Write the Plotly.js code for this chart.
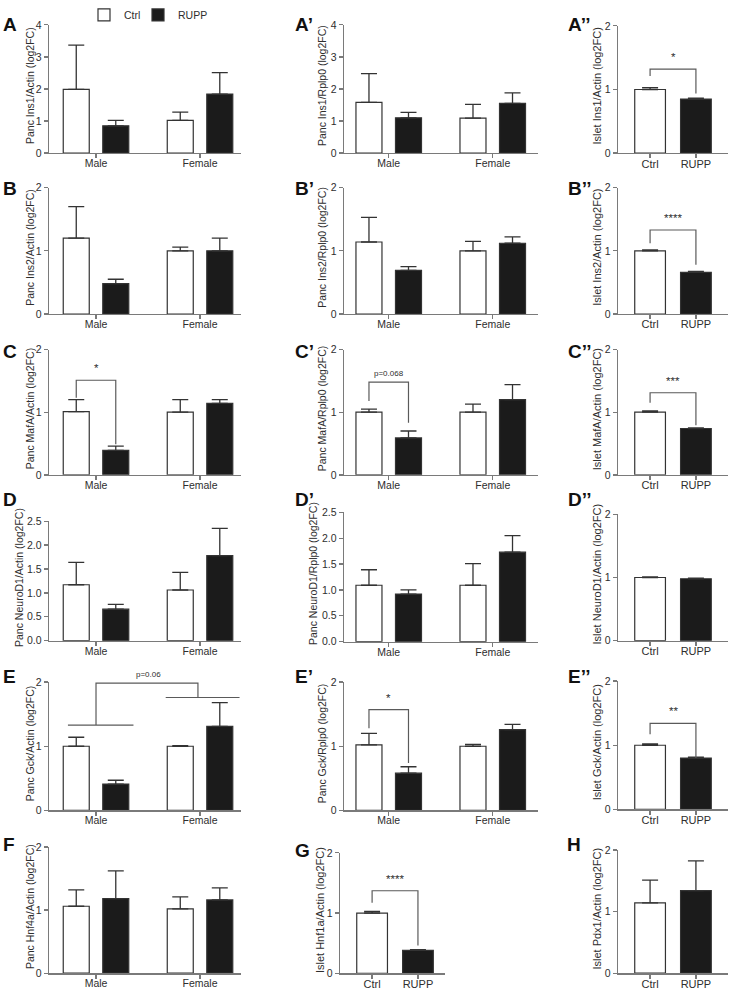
<!DOCTYPE html>
<html>
<head>
<meta charset="utf-8">
<script src="https://cdn.plot.ly/plotly-3.0.1.min.js"></script>
<style>html,body{margin:0;padding:0;background:#fff;}#chart{width:730px;height:990px;}</style>
</head>
<body>
<div id="chart"></div>
<script>
// ---------------- DATA ----------------
const sexCats = ['Male', 'Female'];
const groupCats = ['Ctrl', 'RUPP'];
const seriesNames = ['Ctrl', 'RUPP'];

// Pancreas panels: mean and SEM (upper error) for [Male, Female]
const A_ctrl = [1.99, 1.02],  A_ctrlSem = [1.38, 0.26],  A_rupp = [0.85, 1.84],  A_ruppSem = [0.17, 0.67];
const A1_ctrl = [1.58, 1.09], A1_ctrlSem = [0.90, 0.43], A1_rupp = [1.10, 1.55], A1_ruppSem = [0.17, 0.33];
const B_ctrl = [1.20, 1.00],  B_ctrlSem = [0.50, 0.06],  B_rupp = [0.48, 1.00],  B_ruppSem = [0.07, 0.20];
const B1_ctrl = [1.14, 1.00], B1_ctrlSem = [0.39, 0.15], B1_rupp = [0.69, 1.12], B1_ruppSem = [0.06, 0.10];
const C_ctrl = [1.01, 1.00],  C_ctrlSem = [0.19, 0.20],  C_rupp = [0.39, 1.14],  C_ruppSem = [0.07, 0.06];
const C1_ctrl = [1.00, 1.00], C1_ctrlSem = [0.05, 0.13], C1_rupp = [0.59, 1.20], C1_ruppSem = [0.11, 0.24];
const D_ctrl = [1.17, 1.06],  D_ctrlSem = [0.47, 0.37],  D_rupp = [0.66, 1.78],  D_ruppSem = [0.10, 0.57];
const D1_ctrl = [1.09, 1.09], D1_ctrlSem = [0.30, 0.42], D1_rupp = [0.92, 1.73], D1_ruppSem = [0.08, 0.32];
const E_ctrl = [1.00, 1.00],  E_ctrlSem = [0.14, 0.01],  E_rupp = [0.41, 1.31],  E_ruppSem = [0.06, 0.37];
const E1_ctrl = [1.02, 1.00], E1_ctrlSem = [0.18, 0.03], E1_rupp = [0.58, 1.26], E1_ruppSem = [0.10, 0.08];
const F_ctrl = [1.06, 1.02],  F_ctrlSem = [0.26, 0.19],  F_rupp = [1.18, 1.16],  F_ruppSem = [0.44, 0.19];

// Islet panels: mean and SEM for [Ctrl, RUPP]
const A2_vals = [1.00, 0.85], A2_sem = [0.03, 0.015];
const B2_vals = [1.00, 0.66], B2_sem = [0.015, 0.015];
const C2_vals = [1.00, 0.74], C2_sem = [0.02, 0.01];
const D2_vals = [1.00, 0.98], D2_sem = [0.01, 0.01];
const E2_vals = [1.00, 0.80], E2_sem = [0.02, 0.015];
const G_vals  = [1.00, 0.38], G_sem  = [0.025, 0.01];
const H_vals  = [1.14, 1.34], H_sem  = [0.37, 0.48];

// Significance brackets: [left x, right x] in category units, top level, leg ends, text
const sigPanel  = ['C', 'C1', 'E1', 'A2', 'B2', 'C2', 'E2', 'G'];
const sigX      = [[-0.19, 0.19], [-0.19, 0.19], [-0.19, 0.19], [0, 1], [0, 1], [0, 1], [0, 1], [0, 1]];
const sigTop    = [1.51, 1.48, 1.57, 1.32, 1.33, 1.31, 1.34, 1.37];
const sigLegs   = [[1.23, 0.49], [1.18, 0.83], [1.28, 0.74], [1.21, 0.935], [1.12, 0.78], [1.15, 0.79], [1.17, 0.80], [1.17, 0.46]];
const sigText   = ['*', 'p=0.068', '*', '*', '****', '***', '**', '****'];
// Panel E: sex main-effect bracket
const E_groupLines = [[-0.27, 0.36, 1.33], [0.67, 1.38, 1.76]];
const E_bracketTop = 1.985;
const E_bracketText = 'p=0.06';

// ---------------- LAYOUT CONFIG ----------------
const W = 730, H = 990;
const FONT = 'Liberation Sans, Arial, Helvetica, sans-serif';
const AX = '#7a7a7a', INK = '#2e2e2e', BARLINE = '#333333', DARK = '#1b1b1b';

const col1 = {x: [49, 241], r: [-0.452, 1.394], tx: 30,  fs: 10.5};
const col2 = {x: [344, 538], r: [-0.43, 1.435], tx: 322, fs: 10.5};
const col3 = {x: [618, 728], r: [-0.70, 1.70], tx: 597, fs: 11};
const colG = {x: [340, 445], r: [-0.70, 1.59], tx: 320, fs: 11};

const panels = [
  {id:'A',  kind:'sex', d:[A_ctrl,A_ctrlSem,A_rupp,A_ruppSem],     title:'Panc Ins1/Actin (log2FC)',   ymax:4, col:col1, y:[12,142],  label:'A',   lx:1,   ly:12},
  {id:'A1', kind:'sex', d:[A1_ctrl,A1_ctrlSem,A1_rupp,A1_ruppSem], title:'Panc Ins1/Rplp0 (log2FC)',   ymax:4, col:col2, y:[12,142],  label:'A’',  lx:293, ly:12},
  {id:'A2', kind:'grp', d:[A2_vals,A2_sem],                        title:'Islet Ins1/Actin (log2FC)',  ymax:2, col:col3, y:[13,142],  label:'A’’', lx:566, ly:12},
  {id:'B',  kind:'sex', d:[B_ctrl,B_ctrlSem,B_rupp,B_ruppSem],     title:'Panc Ins2/Actin (log2FC)',   ymax:2, col:col1, y:[177,305], label:'B',   lx:1,   ly:178},
  {id:'B1', kind:'sex', d:[B1_ctrl,B1_ctrlSem,B1_rupp,B1_ruppSem], title:'Panc Ins2/Rplp0 (log2FC)',   ymax:2, col:col2, y:[177,305], label:'B’',  lx:293, ly:178},
  {id:'B2', kind:'grp', d:[B2_vals,B2_sem],                        title:'Islet Ins2/Actin (log2FC)',  ymax:2, col:col3, y:[177,305], label:'B’’', lx:566, ly:178},
  {id:'C',  kind:'sex', d:[C_ctrl,C_ctrlSem,C_rupp,C_ruppSem],     title:'Panc MafA/Actin (log2FC)',   ymax:2, col:col1, y:[341,468], label:'C',   lx:1,   ly:343},
  {id:'C1', kind:'sex', d:[C1_ctrl,C1_ctrlSem,C1_rupp,C1_ruppSem], title:'Panc MafA/Rplp0 (log2FC)',   ymax:2, col:col2, y:[341,468], label:'C’',  lx:293, ly:343},
  {id:'C2', kind:'grp', d:[C2_vals,C2_sem],                        title:'Islet MafA/Actin (log2FC)',  ymax:2, col:col3, y:[341,468], label:'C’’', lx:566, ly:343},
  {id:'D',  kind:'sex', d:[D_ctrl,D_ctrlSem,D_rupp,D_ruppSem],     title:'Panc NeuroD1/Actin (log2FC)',ymax:2.5, dt:0.5, tx:19, col:col1, y:[515,636], label:'D',   lx:1,   ly:493},
  {id:'D1', kind:'sex', d:[D1_ctrl,D1_ctrlSem,D1_rupp,D1_ruppSem], title:'Panc NeuroD1/Rplp0 (log2FC)',ymax:2.5, dt:0.5, tx:313, col:col2, y:[506,637], label:'D’',  lx:293, ly:493},
  {id:'D2', kind:'grp', d:[D2_vals,D2_sem],                        title:'Islet NeuroD1/Actin (log2FC)',ymax:2, col:col3, y:[508,636], label:'D’’', lx:566, ly:493},
  {id:'E',  kind:'sex', d:[E_ctrl,E_ctrlSem,E_rupp,E_ruppSem],     title:'Panc Gck/Actin (log2FC)',    ymax:2, col:col1, y:[678,808], label:'E',   lx:1,   ly:672},
  {id:'E1', kind:'sex', d:[E1_ctrl,E1_ctrlSem,E1_rupp,E1_ruppSem], title:'Panc Gck/Rplp0 (log2FC)',    ymax:2, col:col2, y:[678,808], label:'E’',  lx:293, ly:672},
  {id:'E2', kind:'grp', d:[E2_vals,E2_sem],                        title:'Islet Gck/Actin (log2FC)',   ymax:2, col:col3, y:[677,807], label:'E’’', lx:566, ly:672},
  {id:'F',  kind:'sex', d:[F_ctrl,F_ctrlSem,F_rupp,F_ruppSem],     title:'Panc Hnf4a/Actin (log2FC)',  ymax:2, col:col1, y:[845,973], label:'F',   lx:1,   ly:843},
  {id:'G',  kind:'grp', d:[G_vals,G_sem],                          title:'Islet Hnf1a/Actin (log2FC)', ymax:2, col:colG, y:[851,973], label:'G',   lx:293, ly:849},
  {id:'H',  kind:'grp', d:[H_vals,H_sem],                          title:'Islet Pdx1/Actin (log2FC)',  ymax:2, col:col3, y:[848,973], label:'H',   lx:565, ly:843}
];

const SEX_W = 0.25, SEX_C = 0.19;   // bar width and half-spacing (category units)
const GRP_W = 0.67;

const traces = [];
const legendBase = {orientation:'h', xanchor:'left', yanchor:'middle', y: 1 - 2/H,
  font:{family:FONT, size:10.5, color:INK}, bgcolor:'rgba(0,0,0,0)', borderwidth:0,
  itemclick:false, itemdoubleclick:false};
const layout = {
  width: W, height: H,
  margin: {l:0, r:0, t:0, b:0},
  paper_bgcolor: '#fff', plot_bgcolor: '#fff',
  font: {family: FONT, size: 10.5, color: INK},
  barmode: 'overlay',
  showlegend: true,
  legend:  Object.assign({}, legendBase, {x: 84/W}),
  legend2: Object.assign({}, legendBase, {x: 138/W}),
  shapes: [], annotations: []
};
const axId = {};

panels.forEach((p, i) => {
  const n = i + 1;
  const xa = 'x' + (n === 1 ? '' : n), ya = 'y' + (n === 1 ? '' : n);
  axId[p.id] = {x: xa, y: ya};
  const cats = p.kind === 'sex' ? sexCats : groupCats;
  const fs = p.col.fs;
  layout['xaxis' + (n === 1 ? '' : n)] = {
    domain: [p.col.x[0] / W, p.col.x[1] / W], anchor: ya, type: 'category',
    categoryorder: 'array', categoryarray: cats, range: p.col.r,
    showline: true, linecolor: AX, linewidth: 1.3, ticks: 'outside', ticklen: 4, tickwidth: 1.3, tickcolor: AX,
    ticklabelstandoff: -4,
    tickfont: {family: FONT, size: fs, color: INK}, showgrid: false, zeroline: false, fixedrange: true
  };
  layout['yaxis' + (n === 1 ? '' : n)] = {
    domain: [1 - p.y[1] / H, 1 - p.y[0] / H], anchor: xa, range: [0, p.ymax], dtick: p.dt || 1, tick0: 0,
    tickformat: p.dt ? '.1f' : 'd',
    showline: true, linecolor: AX, linewidth: 1.3, ticks: 'outside', ticklen: 4, tickwidth: 1.3, tickcolor: AX,
    tickfont: {family: FONT, size: 10.5, color: INK}, showgrid: false, zeroline: false, fixedrange: true
  };
  // y-axis title (rotated text beside the axis)
  const tx = p.tx || p.col.tx;
  layout.annotations.push({text: p.title, xref:'paper', yref:'paper', x: tx / W,
    y: 1 - ((p.y[0] + p.y[1]) / 2 - 3) / H, xanchor:'center', yanchor:'middle', textangle:-90,
    showarrow:false, font:{family:FONT, size: fs, color: INK}});
  const eb = (arr) => ({type:'data', symmetric:false, array: arr, arrayminus: arr.map(() => 0),
                        color: BARLINE, thickness: 1.3, width: 8});
  if (p.kind === 'sex') {
    const [c, cs, r, rs] = p.d;
    traces.push({type:'bar', name: seriesNames[0], x: sexCats, y: c, width: SEX_W, offset: -SEX_C - SEX_W/2,
      marker:{color:'#ffffff', line:{color:BARLINE, width:1.2}}, error_y: eb(cs),
      xaxis: xa, yaxis: ya, showlegend: n === 1, legend:'legend', hoverinfo:'skip'});
    traces.push({type:'bar', name: seriesNames[1], x: sexCats, y: r, width: SEX_W, offset: SEX_C - SEX_W/2,
      marker:{color:DARK, line:{color:BARLINE, width:1.2}}, error_y: eb(rs),
      xaxis: xa, yaxis: ya, showlegend: n === 1, legend:'legend2', hoverinfo:'skip'});
  } else {
    const [v, s] = p.d;
    traces.push({type:'bar', name: p.title, x: groupCats, y: v, width: GRP_W,
      marker:{color:['#ffffff', DARK], line:{color:BARLINE, width:1.2}}, error_y: eb(s),
      xaxis: xa, yaxis: ya, showlegend: false, hoverinfo:'skip'});
  }
  layout.annotations.push({text: '<b>' + p.label + '</b>', xref:'paper', yref:'paper',
    x: p.lx / W, y: 1 - p.ly / H, xanchor:'left', yanchor:'middle', showarrow:false,
    font:{family: FONT, size: 19, color:'#111'}});
});

function bracketPath(x0, x1, top, l0, l1) {
  return `M${x0},${l0} L${x0},${top} L${x1},${top} L${x1},${l1}`;
}
sigPanel.forEach((pid, k) => {
  const a = axId[pid];
  layout.shapes.push({type:'path', xref:a.x, yref:a.y,
    path: bracketPath(sigX[k][0], sigX[k][1], sigTop[k], sigLegs[k][0], sigLegs[k][1]),
    line:{color:'#5a5a5a', width:1.2}});
  const isP = sigText[k].startsWith('p');
  layout.annotations.push({text: sigText[k], xref:a.x, yref:a.y, x:(sigX[k][0] + sigX[k][1]) / 2, y: sigTop[k],
    xanchor:'center', yanchor:'bottom', yshift: isP ? 2 : 4, showarrow:false,
    font:{family:FONT, size: isP ? 8 : 11.5, color: INK}});
});
// Panel E sex-effect bracket
(function(){
  const a = axId['E'];
  E_groupLines.forEach(g => layout.shapes.push({type:'path', xref:a.x, yref:a.y,
    path:`M${g[0]},${g[2]} L${g[1]},${g[2]}`, line:{color:'#5a5a5a', width:1.2}}));
  layout.shapes.push({type:'path', xref:a.x, yref:a.y,
    path: bracketPath(0, 0.98, E_bracketTop, E_groupLines[0][2], E_groupLines[1][2]),
    line:{color:'#5a5a5a', width:1.2}});
  layout.annotations.push({text: E_bracketText, xref:a.x, yref:a.y, x:0.5, y:E_bracketTop,
    xanchor:'center', yanchor:'bottom', yshift:2, showarrow:false, font:{family:FONT, size:8, color:INK}});
})();

Plotly.newPlot('chart', traces, layout, {staticPlot:true, displayModeBar:false});
</script>
</body>
</html>
